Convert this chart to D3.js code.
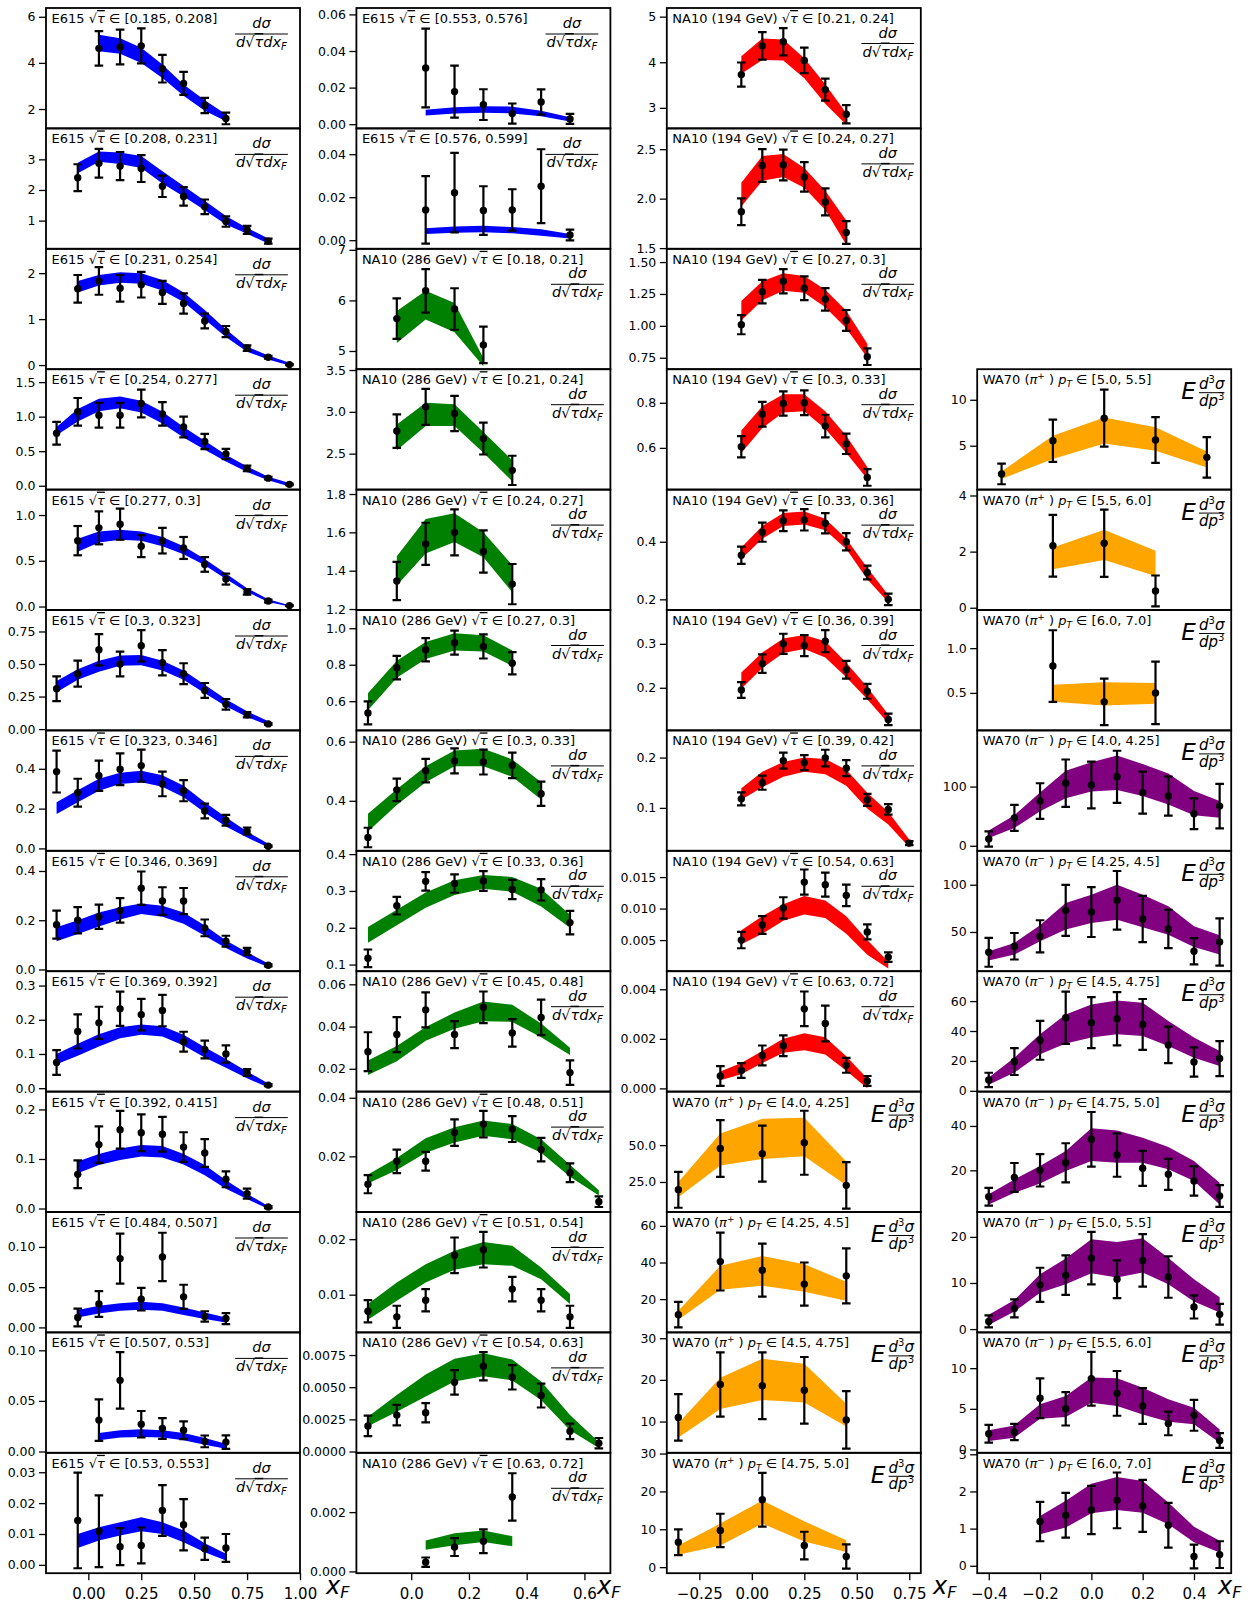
<!DOCTYPE html>
<html><head><meta charset="utf-8">
<script src="https://cdn.jsdelivr.net/npm/d3@7"></script>
<style>body{margin:0;background:#fff}svg{display:block}text{font-family:"DejaVu Sans",sans-serif;fill:#000}</style>
</head><body><svg id="c" width="1256" height="1606"></svg>
<script>
// ---------------- DATA ----------------
const e615Labels=["[0.185, 0.208]","[0.208, 0.231]","[0.231, 0.254]","[0.254, 0.277]","[0.277, 0.3]","[0.3, 0.323]","[0.323, 0.346]","[0.346, 0.369]","[0.369, 0.392]","[0.392, 0.415]","[0.484, 0.507]","[0.507, 0.53]","[0.53, 0.553]","[0.553, 0.576]","[0.576, 0.599]"];
const e615X=[
[0.05,0.15,0.25,0.35,0.45,0.55,0.65],
[-0.05,0.05,0.15,0.25,0.35,0.45,0.55,0.65,0.75,0.85],
[-0.05,0.05,0.15,0.25,0.35,0.45,0.55,0.65,0.75,0.85,0.95],
[-0.15,-0.05,0.05,0.15,0.25,0.35,0.45,0.55,0.65,0.75,0.85,0.95],
[-0.05,0.05,0.15,0.25,0.35,0.45,0.55,0.65,0.75,0.85,0.95],
[-0.15,-0.05,0.05,0.15,0.25,0.35,0.45,0.55,0.65,0.75,0.85],
[-0.15,-0.05,0.05,0.15,0.25,0.35,0.45,0.55,0.65,0.75,0.85],
[-0.15,-0.05,0.05,0.15,0.25,0.35,0.45,0.55,0.65,0.75,0.85],
[-0.15,-0.05,0.05,0.15,0.25,0.35,0.45,0.55,0.65,0.75,0.85],
[-0.05,0.05,0.15,0.25,0.35,0.45,0.55,0.65,0.75,0.85],
[-0.05,0.05,0.15,0.25,0.35,0.45,0.55,0.65],
[0.05,0.15,0.25,0.35,0.45,0.55,0.65],
[-0.05,0.05,0.15,0.25,0.35,0.45,0.55,0.65],
[0.05,0.15,0.25,0.35,0.45,0.55],
[0.05,0.15,0.25,0.35,0.45,0.55]];
const e615Y=[
[4.63,4.69,4.74,3.75,3.11,2.15,1.59],
[2.40,2.87,2.78,2.70,2.12,1.79,1.45,0.97,0.70,0.33],
[1.66,1.83,1.67,1.75,1.58,1.34,0.96,0.73,0.37,0.17,0.01],
[0.76,1.07,1.02,1.02,1.19,1.04,0.85,0.64,0.46,0.25,0.11,0.02],
[0.72,0.86,0.90,0.66,0.72,0.64,0.46,0.30,0.16,0.06,0.01],
[0.31,0.426,0.61,0.50,0.64,0.51,0.426,0.297,0.19,0.11,0.04],
[0.386,0.28,0.365,0.398,0.416,0.324,0.29,0.188,0.142,0.088,0.011],
[0.182,0.2,0.214,0.24,0.33,0.278,0.278,0.169,0.115,0.073,0.017],
[0.075,0.166,0.191,0.232,0.215,0.227,0.136,0.113,0.1,0.046,0.009],
[0.069,0.129,0.159,0.153,0.15,0.124,0.112,0.059,0.03,0.003],
[0.0124,0.029,0.0855,0.035,0.0876,0.038,0.0136,0.011],
[0.031,0.0703,0.027,0.0227,0.021,0.01,0.0093],
[0.0144,0.0109,0.0059,0.0063,0.0176,0.013,0.0052,0.0055],
[0.0307,0.0178,0.0107,0.0058,0.0121,0.0029],
[0.0141,0.0221,0.0138,0.0141,0.0251,0.0024]];
const e615Err=[
[0.75,0.75,0.76,0.6,0.5,0.33,0.25],
[0.44,0.47,0.46,0.44,0.35,0.3,0.24,0.17,0.13,0.08],
[0.3,0.3,0.29,0.28,0.25,0.22,0.16,0.12,0.06,0.03,0.01],
[0.165,0.2,0.18,0.18,0.2,0.17,0.15,0.11,0.075,0.04,0.02,0.01],
[0.16,0.18,0.17,0.12,0.14,0.12,0.08,0.06,0.03,0.015,0.005],
[0.095,0.1,0.12,0.095,0.12,0.097,0.08,0.057,0.04,0.02,0.007],
[0.105,0.07,0.076,0.08,0.08,0.062,0.053,0.037,0.027,0.017,0.004],
[0.057,0.053,0.049,0.05,0.068,0.056,0.053,0.034,0.022,0.015,0.004],
[0.036,0.05,0.047,0.05,0.046,0.046,0.029,0.026,0.025,0.01,0.003],
[0.028,0.037,0.038,0.037,0.035,0.03,0.028,0.016,0.01,0.002],
[0.011,0.016,0.031,0.014,0.03,0.015,0.0065,0.0068],
[0.0205,0.028,0.013,0.0103,0.0087,0.0058,0.0067],
[0.0155,0.0116,0.006,0.0058,0.0082,0.0083,0.0036,0.0045],
[0.0215,0.0142,0.0084,0.0055,0.0069,0.0027],
[0.0157,0.0185,0.0113,0.0096,0.0172,0.0025]];
const e615Hi=[
[5.22,5.07,4.66,3.93,3.06,2.38,1.77],
[2.89,3.26,3.22,3.11,2.61,2.13,1.65,1.15,0.76,0.42],
[1.83,1.96,2.02,2.0,1.85,1.58,1.20,0.78,0.40,0.21,0.05],
[0.85,1.11,1.26,1.29,1.23,1.07,0.85,0.65,0.45,0.28,0.13,0.04],
[0.74,0.82,0.84,0.82,0.76,0.66,0.52,0.36,0.2,0.08,0.015],
[0.37,0.46,0.526,0.566,0.57,0.526,0.45,0.34,0.23,0.137,0.06],
[0.232,0.292,0.35,0.38,0.39,0.368,0.315,0.232,0.156,0.085,0.023],
[0.172,0.2,0.231,0.253,0.268,0.259,0.231,0.179,0.118,0.07,0.024],
[0.1,0.13,0.158,0.178,0.186,0.181,0.156,0.12,0.085,0.049,0.014],
[0.095,0.11,0.121,0.128,0.126,0.11,0.088,0.057,0.03,0.005],
[0.0215,0.0269,0.03,0.0318,0.03,0.0248,0.0186,0.0124],
[0.0183,0.021,0.022,0.021,0.0183,0.0133,0.0077],
[0.01,0.0122,0.0138,0.0154,0.0138,0.0111,0.007,0.0036],
[0.0079,0.0092,0.0098,0.0096,0.0073,0.0038],
[0.0056,0.0064,0.0067,0.0061,0.0051,0.0029]];
const e615Lo=[
[4.51,4.40,4.0,3.34,2.58,1.92,1.47],
[2.55,2.92,2.85,2.72,2.21,1.79,1.34,0.87,0.57,0.25],
[1.58,1.73,1.79,1.77,1.62,1.37,0.99,0.61,0.29,0.12,-0.01],
[0.73,0.93,1.08,1.12,1.06,0.90,0.70,0.52,0.35,0.20,0.08,-0.01],
[0.60,0.70,0.73,0.72,0.66,0.57,0.45,0.30,0.16,0.05,0.0],
[0.284,0.38,0.44,0.487,0.49,0.45,0.38,0.276,0.176,0.092,0.03],
[0.173,0.232,0.29,0.324,0.333,0.31,0.257,0.18,0.11,0.055,0.005],
[0.115,0.144,0.175,0.203,0.225,0.214,0.186,0.137,0.087,0.045,0.01],
[0.07,0.095,0.122,0.146,0.156,0.151,0.125,0.09,0.06,0.029,0.002],
[0.071,0.088,0.098,0.105,0.103,0.089,0.067,0.04,0.019,-0.001],
[0.0124,0.0174,0.0207,0.0219,0.0207,0.0153,0.0103,0.0062],
[0.011,0.0137,0.0143,0.0137,0.011,0.0067,0.0027],
[0.0055,0.0079,0.0095,0.0109,0.01,0.0073,0.0041,0.0014],
[0.0048,0.0059,0.0063,0.0059,0.0044,0.0015],
[0.0029,0.0035,0.0037,0.0032,0.0021,0.0008]];
const e615Dom=[[1.16,6.38],[0.08,4.01],[-0.09,2.53],[-0.056,1.687],[-0.038,1.278],[-0.01,0.915],[-0.012,0.593],[-0.007,0.482],[-0.01,0.342],[-0.007,0.236],[-0.0062,0.1434],[-0.0013,0.1177],[-0.0027,0.0363],[-0.0023,0.0635],[-0.004,0.052]];
const e615Ticks=[["6","4","2"],["3","2","1"],["2","1","0"],["1.5","1.0","0.5","0.0"],["1.0","0.5","0.0"],["0.75","0.50","0.25","0.00"],["0.4","0.2","0.0"],["0.4","0.2","0.0"],["0.3","0.2","0.1","0.0"],["0.2","0.1","0.0"],["0.10","0.05","0.00"],["0.10","0.05","0.00"],["0.03","0.02","0.01","0.00"],["0.06","0.04","0.02","0.00"],["0.04","0.02","0.00"]];

const na286Labels=["[0.18, 0.21]","[0.21, 0.24]","[0.24, 0.27]","[0.27, 0.3]","[0.3, 0.33]","[0.33, 0.36]","[0.45, 0.48]","[0.48, 0.51]","[0.51, 0.54]","[0.54, 0.63]","[0.63, 0.72]"];
const na286X=[
[-0.05,0.05,0.15,0.25],
[-0.05,0.05,0.15,0.25,0.35],
[-0.05,0.05,0.15,0.25,0.35],
[-0.15,-0.05,0.05,0.15,0.25,0.35],
[-0.15,-0.05,0.05,0.15,0.25,0.35,0.45],
[-0.15,-0.05,0.05,0.15,0.25,0.35,0.45,0.55],
[-0.15,-0.05,0.05,0.15,0.25,0.35,0.45,0.55],
[-0.15,-0.05,0.05,0.15,0.25,0.35,0.45,0.55,0.65],
[-0.15,-0.05,0.05,0.15,0.25,0.35,0.45,0.55],
[-0.15,-0.05,0.05,0.15,0.25,0.35,0.45,0.55,0.65],
[0.05,0.15,0.25,0.35]];
const na286Y=[
[5.64,6.19,5.83,5.12],
[2.77,3.06,2.98,2.68,2.30],
[1.346,1.54,1.60,1.50,1.33],
[0.536,0.784,0.882,0.921,0.90,0.808],
[0.276,0.437,0.502,0.535,0.531,0.52,0.424],
[0.117,0.26,0.326,0.32,0.327,0.304,0.303,0.214],
[0.0281,0.0362,0.0479,0.0362,0.0491,0.037,0.0443,0.0182],
[0.0105,0.0183,0.0183,0.0281,0.031,0.0293,0.0223,0.0144,0.0045],
[0.007,0.006,0.009,0.0171,0.0181,0.011,0.009,0.006],
[0.00199,0.00283,0.00301,0.00538,0.00663,0.00577,0.00435,0.00157,0.00065],
[0.00031,0.00082,0.00102,0.00251]];
const na286Err=[
[0.4,0.43,0.41,0.36],
[0.2,0.215,0.21,0.19,0.175],
[0.1,0.11,0.12,0.11,0.105],
[0.063,0.064,0.064,0.066,0.066,0.061],
[0.033,0.038,0.04,0.042,0.042,0.043,0.041],
[0.024,0.024,0.025,0.025,0.027,0.026,0.029,0.032],
[0.0092,0.0083,0.0083,0.0064,0.0075,0.0065,0.0084,0.0058],
[0.0031,0.004,0.0032,0.0045,0.0045,0.0044,0.004,0.0032,0.0018],
[0.002,0.002,0.002,0.0032,0.0032,0.0022,0.002,0.002],
[0.0008,0.0008,0.00075,0.00095,0.0011,0.00095,0.00093,0.0006,0.0004],
[0.00016,0.0003,0.0004,0.0008]];
const na286Hi=[
[5.79,6.19,5.95,4.86],
[2.85,3.11,3.09,2.76,2.42],
[1.476,1.67,1.70,1.60,1.43],
[0.643,0.822,0.925,0.972,0.962,0.878],
[0.356,0.439,0.517,0.57,0.576,0.54,0.463],
[0.202,0.249,0.296,0.329,0.343,0.338,0.306,0.235],
[0.0239,0.0308,0.0398,0.0466,0.0519,0.0503,0.0414,0.03],
[0.0138,0.0194,0.0262,0.0299,0.0322,0.031,0.0258,0.0171,0.0084],
[0.0083,0.0122,0.0155,0.0179,0.0195,0.0188,0.0149,0.0101],
[0.0027,0.0044,0.00598,0.00721,0.00763,0.00716,0.00545,0.00283,0.00073],
[0.00104,0.00129,0.00138,0.00119]];
const na286Lo=[
[5.16,5.62,5.37,4.70],
[2.54,2.83,2.83,2.51,2.17],
[1.323,1.49,1.55,1.47,1.287],
[0.55,0.728,0.831,0.878,0.872,0.793],
[0.296,0.386,0.463,0.517,0.517,0.481,0.404],
[0.159,0.207,0.254,0.289,0.306,0.298,0.258,0.2],
[0.0171,0.0236,0.0333,0.0389,0.0425,0.0422,0.0349,0.0265],
[0.0107,0.0153,0.0212,0.0247,0.027,0.0258,0.0212,0.013,0.0066],
[0.0055,0.0089,0.0122,0.0145,0.0155,0.0152,0.0128,0.0083],
[0.00197,0.00309,0.00427,0.00545,0.00585,0.00553,0.00401,0.00165,0.00028],
[0.00073,0.00088,0.00099,0.00085]];
const na286Dom=[[4.64,7.02],[2.07,3.51],[1.195,1.823],[0.44,1.1],[0.231,0.638],[0.082,0.409],[0.0092,0.0662],[0.001,0.0421],[0.0032,0.0249],[-0.0001,0.00926],[-0.00006,0.004]];
const na286Ticks=[["7","6","5"],["3.5","3.0","2.5"],["1.8","1.6","1.4","1.2"],["1.0","0.8","0.6"],["0.6","0.4"],["0.4","0.3","0.2","0.1"],["0.06","0.04","0.02"],["0.04","0.02"],["0.02","0.01"],["0.0075","0.0050","0.0025","0.0000"],["0.002","0.000"]];

const na194Labels=["[0.21, 0.24]","[0.24, 0.27]","[0.27, 0.3]","[0.3, 0.33]","[0.33, 0.36]","[0.36, 0.39]","[0.39, 0.42]","[0.54, 0.63]","[0.63, 0.72]"];
const na194X=[
[-0.05,0.05,0.15,0.25,0.35,0.45],
[-0.05,0.05,0.15,0.25,0.35,0.45],
[-0.05,0.05,0.15,0.25,0.35,0.45,0.55],
[-0.05,0.05,0.15,0.25,0.35,0.45,0.55],
[-0.05,0.05,0.15,0.25,0.35,0.45,0.55,0.65],
[-0.05,0.05,0.15,0.25,0.35,0.45,0.55,0.65],
[-0.05,0.05,0.15,0.25,0.35,0.45,0.55,0.65,0.75],
[-0.05,0.05,0.15,0.25,0.35,0.45,0.55,0.65],
[-0.15,-0.05,0.05,0.15,0.25,0.35,0.45,0.55]];
const na194Y=[
[3.73,4.36,4.45,4.04,3.40,2.86],
[1.868,2.335,2.34,2.22,1.967,1.658],
[1.009,1.268,1.35,1.295,1.208,1.042,0.758],
[0.605,0.749,0.797,0.8,0.697,0.618,0.469],
[0.353,0.433,0.473,0.476,0.464,0.40,0.293,0.2],
[0.195,0.255,0.3,0.296,0.306,0.241,0.192,0.128],
[0.118,0.15,0.194,0.19,0.199,0.179,0.116,0.097,0.03],
[0.005,0.0074,0.0101,0.0142,0.0138,0.0121,0.0063,0.0023],
[0.0005,0.00072,0.00133,0.00172,0.00321,0.00262,0.00093,0.0003]];
const na194Err=[
[0.265,0.3,0.3,0.28,0.24,0.2],
[0.135,0.165,0.155,0.15,0.137,0.115],
[0.075,0.092,0.095,0.093,0.088,0.082,0.065],
[0.047,0.055,0.054,0.055,0.05,0.045,0.037],
[0.03,0.033,0.036,0.037,0.035,0.03,0.024,0.02],
[0.018,0.021,0.023,0.024,0.025,0.02,0.017,0.013],
[0.013,0.014,0.016,0.015,0.0165,0.016,0.012,0.0105,0.004],
[0.0013,0.0014,0.0017,0.002,0.0019,0.0017,0.0012,0.00075],
[0.0004,0.0003,0.0004,0.00042,0.0007,0.00072,0.0003,0.0002]];
const na194Hi=[
[4.13,4.52,4.5,4.09,3.52,2.88],
[2.16,2.43,2.45,2.31,2.08,1.78],
[1.195,1.35,1.413,1.39,1.282,1.118,0.859],
[0.677,0.785,0.838,0.838,0.762,0.654,0.515],
[0.38,0.455,0.50,0.505,0.48,0.41,0.31,0.215],
[0.235,0.28,0.312,0.32,0.306,0.257,0.202,0.139],
[0.139,0.172,0.191,0.2,0.197,0.176,0.13,0.092,0.037],
[0.00656,0.00878,0.0107,0.012,0.01128,0.00878,0.005,0.00156],
[0.00068,0.00102,0.00151,0.002,0.00223,0.00206,0.0013,0.0004]];
const na194Lo=[
[3.75,4.05,4.04,3.65,3.09,2.63],
[1.92,2.18,2.22,2.11,1.886,1.535],
[1.042,1.2,1.276,1.26,1.145,0.982,0.75],
[0.577,0.688,0.757,0.762,0.685,0.577,0.462],
[0.34,0.41,0.455,0.46,0.44,0.375,0.27,0.19],
[0.198,0.245,0.279,0.288,0.269,0.224,0.174,0.119],
[0.116,0.141,0.162,0.172,0.167,0.144,0.099,0.067,0.022],
[0.00433,0.006,0.00806,0.00906,0.0085,0.006,0.00267,0.0005],
[0.00033,0.00057,0.00102,0.00144,0.00154,0.00137,0.00071,0.00001]];
const na194Dom=[[2.55,5.19],[1.493,2.71],[0.66,1.604],[0.415,0.949],[0.163,0.581],[0.103,0.377],[0.0147,0.254],[0.00006,0.01917],[-0.00013,0.00473]];
const na194Ticks=[["5","4","3"],["2.5","2.0","1.5"],["1.50","1.25","1.00","0.75"],["0.8","0.6"],["0.4","0.2"],["0.3","0.2"],["0.2","0.1"],["0.015","0.010","0.005"],["0.004","0.002","0.000"]];

const wa70pLabels=["[4.0, 4.25]","[4.25, 4.5]","[4.5, 4.75]","[4.75, 5.0]","[5.0, 5.5]","[5.5, 6.0]","[6.0, 7.0]"];
const wa70pX=[
[-0.35,-0.15,0.05,0.25,0.45],[-0.35,-0.15,0.05,0.25,0.45],[-0.35,-0.15,0.05,0.25,0.45],[-0.35,-0.15,0.05,0.25,0.45],
[-0.35,-0.15,0.05,0.25,0.45],[-0.15,0.05,0.25],[-0.15,0.05,0.25]];
const wa70pY=[[19.7,47.7,44.2,51.6,22.7],[11.5,40.5,35.8,28.2,32.7],[11,18.9,18.6,17.5,10.4],[6.6,9.7,17.8,5.7,2.8],[1.92,5.54,8.0,5.62,3.73],[2.21,2.3,0.6],[0.8,0.4,0.5]];
const wa70pErr=[[12.2,19.3,19,21.7,15.8],[7,15.8,14.5,11.8,15],[5.6,7.7,8,8,6.9],[3.4,4.4,7.1,3.65,3.2],[1.12,2.3,3.1,2.5,2.2],[1.1,1.2,0.55],[0.4,0.26,0.35]];
const wa70pHi=[[25,57.9,67.8,68.5,38.9],[13.6,38.2,43.6,39.1,29.5],[9.6,20.5,25.1,23.9,14.3],[5.7,11.5,17.6,12.1,7.1],[2.2,6.09,8.08,7.0,4.38],[2.15,2.78,2.03],[0.59,0.62,0.61]];
const wa70pLo=[[14.6,36.1,40.5,42.4,22.7],[8.7,25.1,27.3,24,19.1],[6.2,13,15.2,14.6,8.8],[3.3,5.7,11.5,6.8,4],[1.38,3.55,5.25,4.46,2.64],[1.37,1.7,1.13],[0.40,0.36,0.38]];
const wa70pDom=[[4.63,86.3],[1.8,67.6],[2.5,31.4],[-1.6,30.2],[0.22,13.33],[-0.08,4.21],[0.081,1.426]];
const wa70pTicks=[["50.0","25.0"],["60","40","20"],["30","20","10"],["30","20","10","0"],["10","5"],["4","2","0"],["1.0","0.5"]];

const wa70mLabels=["[4.0, 4.25]","[4.25, 4.5]","[4.5, 4.75]","[4.75, 5.0]","[5.0, 5.5]","[5.5, 6.0]","[6.0, 7.0]"];
const wa70mX=[
[-0.4,-0.3,-0.2,-0.1,0.0,0.1,0.2,0.3,0.4,0.5],[-0.4,-0.3,-0.2,-0.1,0.0,0.1,0.2,0.3,0.4,0.5],
[-0.4,-0.3,-0.2,-0.1,0.0,0.1,0.2,0.3,0.4,0.5],[-0.4,-0.3,-0.2,-0.1,0.0,0.1,0.2,0.3,0.4,0.5],
[-0.4,-0.3,-0.2,-0.1,0.0,0.1,0.2,0.3,0.4,0.5],[-0.4,-0.3,-0.2,-0.1,0.0,0.1,0.2,0.3,0.4,0.5],
[-0.2,-0.1,0.0,0.1,0.2,0.3,0.4,0.5]];
const wa70mY=[
[11.4,47.2,75.6,105.7,102.8,116.5,89.8,84,54,67],
[28.5,34.9,45.4,72.9,71.1,83.5,63.7,53.2,29.6,39.4],
[7.3,19.6,33.8,48.9,45.6,48.2,44.4,30.7,19.3,21.6],
[8.1,16.8,20,23.4,34,26.9,20.9,18.2,15.2,8.4],
[1.66,4.5,9.6,11.7,15.4,10.8,14.9,11.3,4.8,3.2],
[1.93,2.14,6.3,5.0,8.7,6.9,5.35,3.2,4.2,1.1],
[1.19,1.36,1.5,1.76,1.61,1.09,0.25,0.3]];
const wa70mErr=[
[13,22,30,40,39.5,44,35.5,33,26,37.5],
[15.3,14,17,27,26.4,31,24.4,20.3,13.8,25],
[4.8,9,13,17.5,17,17.8,17,12.2,9.8,11.7],
[4,6.5,7.3,8.8,12.3,9.8,7.9,7,6.6,4.9],
[1.3,1.95,3.7,4.3,5.7,4.1,5.7,4.5,2.5,2.25],
[1.1,1,2.45,2.05,3.3,2.75,2.2,1.45,1.9,0.9],
[0.53,0.6,0.65,0.75,0.7,0.6,0.32,0.36]];
const wa70mHi=[
[25.6,51.7,89.8,126.7,140.9,152.3,138,122.2,92.6,75.6],
[29.6,38.4,57,80.6,89.4,100,89.4,77.1,56,46.5],
[8.9,22.2,37.8,51.1,57.8,60.4,58.9,46.7,35.6,26.7],
[9.2,15.9,21.9,28.7,39,38,34.7,30.5,24.2,14.4],
[3.1,6.3,11.9,15.3,19.5,18.9,19.7,15.4,10.8,6.9],
[2.35,2.96,5.56,6.58,8.85,8.77,7.6,6.17,5.14,2.47],
[1.34,1.75,2.21,2.39,2.28,1.7,1.05,0.67]];
const wa70mLo=[
[13.1,30.1,58.5,80.1,91.5,94.3,84,69.9,51.7,47.2],
[19.7,26.1,40.1,52.5,59.5,63,54.9,47.2,34.2,26.1],
[4,12.2,24.4,31.6,35.6,37.8,36.7,30,22.2,16.7],
[4.6,9.9,14,19.7,24.2,23.4,23.4,20.5,15.2,4.6],
[0.9,3.8,7.9,9.7,12.1,11.2,12.3,9.7,6,3.6],
[1.03,1.44,3.79,4.0,5.76,5.35,4.3,3.4,3.1,0.82],
[0.85,1.03,1.41,1.5,1.43,1.12,0.63,0.36]];
const wa70mDom=[[-8.5,194.9],[8.5,135.9],[-0.5,80],[1.2,55.5],[-0.72,25.4],[-0.41,14.4],[-0.2,3.04]];
const wa70mTicks=[["100","0"],["100","50"],["60","40","20","0"],["40","20"],["20","10","0"],["10","5","0"],["3","2","1","0"]];

const xTickLabels=[["0.00","0.25","0.50","0.75","1.00"],["0.0","0.2","0.4","0.6"],["−0.25","0.00","0.25","0.50","0.75"],["−0.4","−0.2","0.0","0.2","0.4"]];
const xDomains=[[-0.2,1.0],[-0.19,0.69],[-0.405,0.805],[-0.445,0.545]];

// ---------------- LAYOUT ----------------
const colLeft=[46,356.4,666.8,977.2], colW=254, top0=8, rowH=120.4, nRows=13;
const xLabelX=[326,597,933,1218];
const slotsE615=[[0,0],[0,1],[0,2],[0,3],[0,4],[0,5],[0,6],[0,7],[0,8],[0,9],[0,10],[0,11],[0,12],[1,0],[1,1]];
const slotsNA286=[[1,2],[1,3],[1,4],[1,5],[1,6],[1,7],[1,8],[1,9],[1,10],[1,11],[1,12]];
const slotsNA194=[[2,0],[2,1],[2,2],[2,3],[2,4],[2,5],[2,6],[2,7],[2,8]];
const slotsWA70p=[[2,9],[2,10],[2,11],[2,12],[3,3],[3,4],[3,5]];
const slotsWA70m=[[3,6],[3,7],[3,8],[3,9],[3,10],[3,11],[3,12]];

const groups=[
 {kind:"e615",color:"#0000ff",L:e615Labels,X:e615X,Y:e615Y,E:e615Err,Hi:e615Hi,Lo:e615Lo,D:e615Dom,T:e615Ticks,S:slotsE615},
 {kind:"na286",color:"#008000",L:na286Labels,X:na286X,Y:na286Y,E:na286Err,Hi:na286Hi,Lo:na286Lo,D:na286Dom,T:na286Ticks,S:slotsNA286},
 {kind:"na194",color:"#ff0000",L:na194Labels,X:na194X,Y:na194Y,E:na194Err,Hi:na194Hi,Lo:na194Lo,D:na194Dom,T:na194Ticks,S:slotsNA194},
 {kind:"wa70p",color:"#ffa500",L:wa70pLabels,X:wa70pX,Y:wa70pY,E:wa70pErr,Hi:wa70pHi,Lo:wa70pLo,D:wa70pDom,T:wa70pTicks,S:slotsWA70p},
 {kind:"wa70m",color:"#800080",L:wa70mLabels,X:wa70mX,Y:wa70mY,E:wa70mErr,Hi:wa70mHi,Lo:wa70mLo,D:wa70mDom,T:wa70mTicks,S:slotsWA70m}
];

const svg=d3.select("#c");
const defs=svg.append("defs");
const num=s=>+String(s).replace("−","-");
let clipId=0;

function addParts(text,parts){
  parts.forEach(p=>{
    const s=text.append("tspan").text(p.t);
    if(p.it) s.attr("font-style","italic");
    if(p.up) s.attr("font-style","normal");
    if(p.ov) s.attr("text-decoration","overline");
    if(p.size) s.attr("font-size",p.size);
    if(p.dy!==undefined) s.attr("dy",p.dy);
  });
}

function addTitle(g,x,y,kind,label){
  const t=g.append("text").attr("x",x).attr("y",y).attr("font-size",13);
  const sq=[{t:"√"},{t:"τ",it:true,ov:true},{t:" ∈ "+label}];
  if(kind==="e615") addParts(t,[{t:"E615 "}].concat(sq));
  else if(kind==="na286") addParts(t,[{t:"NA10 (286 GeV) "}].concat(sq));
  else if(kind==="na194") addParts(t,[{t:"NA10 (194 GeV) "}].concat(sq));
  else {
    const sign=kind==="wa70p"?"+":"−";
    addParts(t,[{t:"WA70 ("},{t:"π",it:true},{t:sign,size:9,dy:-5},{t:" ) ",dy:5},{t:"p",it:true},{t:"T",it:true,size:9,dy:3},{t:" ∈ "+label,dy:-3}]);
  }
}

function fracD(g,cx,barY){
  g.append("text").attr("x",cx).attr("y",barY-6).attr("text-anchor","middle").attr("font-size",14.5).attr("font-style","italic").text("dσ");
  const den=g.append("text").attr("x",cx).attr("y",barY+13).attr("text-anchor","middle").attr("font-size",14.5).attr("font-style","italic");
  addParts(den,[{t:"d"},{t:"√",up:true},{t:"τ",ov:true},{t:"dx"},{t:"F",size:10,dy:3}]);
  const w=den.node().getComputedTextLength();
  g.append("line").attr("x1",cx-w/2-1).attr("x2",cx+w/2+1).attr("y1",barY).attr("y2",barY).attr("stroke","#000").attr("stroke-width",1);
}

function fracE(g,right,top){
  g.append("text").attr("x",right-50).attr("y",top+30).attr("font-size",23).attr("font-style","italic").text("E");
  const cx=right-19.5, barY=top+23.5;
  const n=g.append("text").attr("x",cx).attr("y",barY-3.5).attr("text-anchor","middle").attr("font-size",15).attr("font-style","italic");
  addParts(n,[{t:"d"},{t:"3",size:10,dy:-6,up:true},{t:"σ",dy:6}]);
  const d=g.append("text").attr("x",cx).attr("y",barY+13).attr("text-anchor","middle").attr("font-size",15).attr("font-style","italic");
  addParts(d,[{t:"dp"},{t:"3",size:10,dy:-6,up:true}]);
  const w=Math.max(n.node().getComputedTextLength(),d.node().getComputedTextLength());
  g.append("line").attr("x1",cx-w/2).attr("x2",cx+w/2).attr("y1",barY).attr("y2",barY).attr("stroke","#000").attr("stroke-width",1);
}

groups.forEach(G=>{
  G.S.forEach((slot,i)=>{
    const [col,row]=slot;
    const x0=colLeft[col], y0=top0+row*rowH, x1=x0+colW, y1=y0+rowH;
    const xs=d3.scaleLinear().domain(xDomains[col]).range([x0,x1]);
    const ys=d3.scaleLinear().domain(G.D[i]).range([y1,y0]);
    const g=svg.append("g");
    const cid="cp"+(clipId++);
    defs.append("clipPath").attr("id",cid).append("rect").attr("x",x0).attr("y",y0).attr("width",colW).attr("height",rowH);
    const pg=g.append("g").attr("clip-path","url(#"+cid+")");
    const X=G.X[i],Y=G.Y[i],E=G.E[i],Hi=G.Hi[i],Lo=G.Lo[i];
    const idx=d3.range(X.length);
    const area=d3.area().x(k=>xs(X[k])).y0(k=>ys(Lo[k])).y1(k=>ys(Hi[k]));
    pg.append("path").attr("d",area(idx)).attr("fill",G.color).attr("stroke","none");
    const eb=pg.append("g").attr("stroke","#000").attr("stroke-width",2.2).attr("fill","none");
    idx.forEach(k=>{
      const px=xs(X[k]), ya=ys(Y[k]+E[k]), yb=ys(Y[k]-E[k]);
      eb.append("line").attr("x1",px).attr("x2",px).attr("y1",ya).attr("y2",yb);
      eb.append("line").attr("x1",px-4.3).attr("x2",px+4.3).attr("y1",ya).attr("y2",ya);
      eb.append("line").attr("x1",px-4.3).attr("x2",px+4.3).attr("y1",yb).attr("y2",yb);
    });
    pg.selectAll("circle.pt").data(idx).enter().append("circle")
      .attr("cx",k=>xs(X[k])).attr("cy",k=>ys(Y[k])).attr("r",3.7).attr("fill","#000");
    // y axis
    const tk=G.T[i];
    const ax=d3.axisLeft(ys).tickValues(tk.map(num)).tickFormat((d,j)=>tk[j]).tickSize(7).tickPadding(3.5);
    const ag=g.append("g").attr("transform",`translate(${x0},0)`).call(ax);
    ag.select(".domain").remove();
    ag.selectAll("line").attr("stroke","#000").attr("stroke-width",1.3);
    ag.selectAll("text").attr("font-size",12.5).attr("font-family","DejaVu Sans").attr("fill","#000");
    // frame
    g.append("rect").attr("x",x0).attr("y",y0).attr("width",colW).attr("height",rowH)
      .attr("fill","none").attr("stroke","#000").attr("stroke-width",1.8);
    // title
    addTitle(g,x0+5.5,y0+15,G.kind,G.L[i]);
    // formula
    if(G.kind==="e615") fracD(g,x1-38.5,y0+26);
    else if(G.kind==="na286"||G.kind==="na194") fracD(g,x1-33,y0+35.5);
    else fracE(g,x1,y0);
    // bottom axis
    if(row===nRows-1){
      const xt=xTickLabels[col];
      const bx=d3.axisBottom(xs).tickValues(xt.map(num)).tickFormat((d,j)=>xt[j]).tickSize(7).tickPadding(8);
      const bg=g.append("g").attr("transform",`translate(0,${y1})`).call(bx);
      bg.select(".domain").remove();
      bg.selectAll("line").attr("stroke","#000").attr("stroke-width",1.3);
      bg.selectAll("text").attr("font-size",15).attr("font-family","DejaVu Sans").attr("fill","#000");
      const xl=g.append("text").attr("x",xLabelX[col]).attr("y",y1+21).attr("font-size",24).attr("font-style","italic");
      addParts(xl,[{t:"x"},{t:"F",size:16,dy:4}]);
    }
  });
});
</script></body></html>
